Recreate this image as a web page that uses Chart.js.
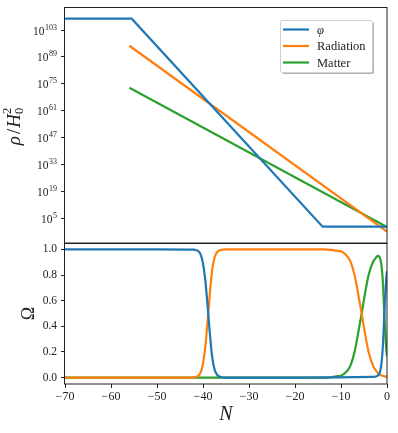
<!DOCTYPE html>
<html>
<head>
<meta charset="utf-8">
<script src="https://cdn.jsdelivr.net/npm/chart.js@4.4.1/dist/chart.umd.min.js"></script>
<style>
    html, body { margin: 0; padding: 0; background: #fff; }
    #wrap { position: relative; width: 398px; height: 433px; }
    #omega-chart { position: absolute; left: 0; top: 236px; }
    #rho-chart { position: absolute; left: 0; top: 0; }
</style>
</head>
<body>
<div id="wrap">
    <canvas id="omega-chart" width="398" height="197"></canvas>
    <canvas id="rho-chart" width="398" height="250"></canvas>
</div>
<script>
/* ----- data ----- */

// top panel: log10(rho / H0^2) at the corners of each line
const phiN = [-70, -55.5, -14, 0];
const phiLogRho = [108.9, 108.9, 0.5, 0.5];
const radN = [-56, 0];
const radLogRho = [94.8, -2.1];
const matN = [-56, 0];
const matLogRho = [72.9, 0.3];

// bottom panel: density parameters
const phiOmegaN = [-70, -50, -42, -41.5, -41, -40.5, -40, -39.5, -39, -38.5, -38, -37.5, -37, -36.5, -36, -35, -20, -3, -2, -1.5, -1.2, -1, -0.8, -0.6, -0.4, -0.2, 0];
const phiOmega = [1, 1, 0.998, 0.994, 0.985, 0.96, 0.89, 0.76, 0.56, 0.34, 0.16, 0.065, 0.025, 0.009, 0.003, 0, 0, 0.005, 0.015, 0.048, 0.11, 0.19, 0.31, 0.48, 0.63, 0.75, 0.83];

const radOmegaN = [-70, -43, -42, -41.5, -41, -40.5, -40, -39.5, -39, -38.5, -38, -37.5, -37, -36.5, -36, -35, -14, -12, -11, -10, -9, -8, -7, -6, -5.5, -5, -4, -3, -2.5, -2, -1.5, -1, -0.5, 0];
const radOmega = [0, 0, 0.002, 0.006, 0.015, 0.04, 0.11, 0.24, 0.44, 0.66, 0.84, 0.935, 0.975, 0.991, 0.997, 1, 1, 0.996, 0.99, 0.985, 0.96, 0.91, 0.79, 0.6, 0.5, 0.39, 0.2, 0.09, 0.06, 0.035, 0.022, 0.014, 0.009, 0.006];

const matOmegaN = [-70, -14, -12, -11, -10, -9, -8, -7, -6, -5.5, -5, -4, -3, -2.5, -2, -1.5, -1.2, -1, -0.8, -0.6, -0.4, -0.2, 0];
const matOmega = [0, 0, 0.004, 0.01, 0.015, 0.04, 0.09, 0.21, 0.4, 0.5, 0.61, 0.8, 0.905, 0.93, 0.95, 0.93, 0.875, 0.8, 0.68, 0.51, 0.36, 0.245, 0.165];

const seriesLabels = ["φ", "Radiation", "Matter"];
const seriesColors = ["#1f77b4", "#ff7f0e", "#2ca02c"];

const rhoTickExp = [5, 19, 33, 47, 61, 75, 89, 103];
const nTicks = [-70, -60, -50, -40, -30, -20, -10, 0];
const omegaTicks = [0, 0.2, 0.4, 0.6, 0.8, 1.0];

/* ----- helpers ----- */

const SERIF = "'Liberation Serif', 'DejaVu Serif', serif";
const INK = "#222";

function points(xs, ys, map) {
    return xs.map((x, i) => ({ x: x, y: map ? map(ys[i]) : ys[i] }));
}

function tickSet(values) {
    return scale => {
        scale.ticks = values.map(v => ({ value: v }));
    };
}

// pin the plot box: no extra room for half tick labels
function fixWidth(w) {
    return scale => {
        scale.width = w;
        scale.paddingTop = 0;
        scale.paddingBottom = 0;
    };
}

const frame = {
    id: "frame",
    afterDraw(chart) {
        const { ctx, chartArea: a } = chart;
        ctx.save();
        ctx.strokeStyle = INK;
        ctx.lineWidth = 1;
        ctx.strokeRect(Math.round(a.left) - 0.5, Math.round(a.top) + 0.5,
            Math.round(a.right - a.left) + 0.5, Math.round(a.bottom - a.top) - 0.5);
        ctx.restore();
    }
};

// "10" with a raised exponent, for the log axis
const powerLabels = {
    id: "powerLabels",
    afterDraw(chart) {
        const { ctx } = chart;
        const scale = chart.scales.y;
        ctx.save();
        ctx.fillStyle = INK;
        ctx.textBaseline = "alphabetic";
        scale.ticks.forEach(t => {
            const y = scale.getPixelForValue(t.value);
            const exp = String(Math.round(Math.log10(t.value)));
            const right = scale.right - 8;
            ctx.font = "8px " + SERIF;
            const ew = ctx.measureText(exp).width;
            ctx.fillText(exp, right - ew, y - 0.5);
            ctx.font = "11.5px " + SERIF;
            const bw = ctx.measureText("10").width;
            ctx.fillText("10", right - ew - bw - 0.5, y + 4.5);
        });
        ctx.restore();
    }
};

// rotated  rho / H_0^2  axis title
const rhoTitle = {
    id: "rhoTitle",
    afterDraw(chart) {
        const { ctx, chartArea: a } = chart;
        const big = "italic 19px " + SERIF;
        const up = "19px " + SERIF;
        const small = "12.5px " + SERIF;
        ctx.save();
        ctx.fillStyle = INK;
        ctx.textBaseline = "alphabetic";
        const parts = [
            { t: "ρ", f: big, gap: 2 },
            { t: "/", f: up, gap: 1 },
            { t: "H", f: big, gap: 1 }
        ];
        let w = 0;
        parts.forEach(p => { ctx.font = p.f; p.w = ctx.measureText(p.t).width; w += p.w + p.gap; });
        ctx.font = small;
        const sw = ctx.measureText("0").width;
        w += sw;
        ctx.translate(15, (a.top + a.bottom) / 2 + 1);
        ctx.rotate(-Math.PI / 2);
        let x = -w / 2;
        parts.forEach(p => {
            ctx.font = p.f;
            ctx.fillText(p.t, x, 5);
            x += p.w + p.gap;
        });
        ctx.font = small;
        ctx.fillText("2", x - 1, -4);
        ctx.fillText("0", x - 1, 8);
        ctx.restore();
    }
};

const legendBox = {
    id: "legendBox",
    afterDraw(chart) {
        const { ctx, chartArea: a } = chart;
        const x = a.right - 107, y = a.top + 13, w = 92, h = 52;
        ctx.save();
        ctx.fillStyle = "rgba(0,0,0,0.3)";
        ctx.beginPath();
        ctx.roundRect(x + 2, y + 2, w, h, 2);
        ctx.fill();
        ctx.fillStyle = "#fff";
        ctx.strokeStyle = "#d0d0d0";
        ctx.lineWidth = 1;
        ctx.beginPath();
        ctx.roundRect(x + 0.5, y + 0.5, w, h, 2);
        ctx.fill();
        ctx.stroke();

        ctx.textBaseline = "middle";
        chart.data.datasets.forEach((ds, i) => {
            const ry = y + 9.5 + i * 16.5;
            ctx.strokeStyle = ds.borderColor;
            ctx.lineWidth = 2.2;
            ctx.beginPath();
            ctx.moveTo(x + 3, ry);
            ctx.lineTo(x + 29, ry);
            ctx.stroke();
            ctx.fillStyle = INK;
            ctx.font = (i === 0 ? "italic " : "") + "12.5px " + SERIF;
            ctx.fillText(ds.label, x + 37, ry + 1);
        });
        ctx.restore();
    }
};

const tickGrid = {
    display: true,
    drawOnChartArea: false,
    drawTicks: true,
    tickLength: 4,
    color: INK
};

/* ----- top panel: rho / H0^2 ----- */

new Chart(document.getElementById("rho-chart"), {
    type: "line",
    data: {
        datasets: [
            { data: points(phiN, phiLogRho, v => Math.pow(10, v)) },
            { data: points(radN, radLogRho, v => Math.pow(10, v)) },
            { data: points(matN, matLogRho, v => Math.pow(10, v)) }
        ].map((ds, i) => Object.assign(ds, {
            label: seriesLabels[i],
            borderColor: seriesColors[i],
            borderWidth: 2.2,
            pointRadius: 0,
            tension: 0,
            fill: false
        }))
    },
    options: {
        responsive: false,
        animation: false,
        events: [],
        layout: { padding: { top: 7, right: 11, bottom: 7, left: 0 } },
        plugins: { legend: { display: false }, tooltip: { enabled: false } },
        scales: {
            x: { type: "linear", min: -70, max: 0, display: false },
            y: {
                type: "logarithmic",
                min: 1e-8,
                max: 1e115,
                afterBuildTicks: tickSet(rhoTickExp.map(e => Math.pow(10, e))),
                afterFit: fixWidth(65),
                grid: tickGrid,
                border: { display: false },
                ticks: {
                    autoSkip: false,
                    padding: 4,
                    color: "rgba(0,0,0,0)",
                    font: { family: SERIF, size: 11 },
                    callback: v => "10^" + Math.round(Math.log10(v))
                },
                title: { display: false }
            }
        }
    },
    plugins: [frame, powerLabels, rhoTitle, legendBox]
});

/* ----- bottom panel: Omega ----- */

new Chart(document.getElementById("omega-chart"), {
    type: "line",
    data: {
        datasets: [
            { data: points(phiOmegaN, phiOmega) },
            { data: points(radOmegaN, radOmega) },
            { data: points(matOmegaN, matOmega) }
        ].map((ds, i) => Object.assign(ds, {
            label: seriesLabels[i],
            borderColor: seriesColors[i],
            borderWidth: 2.2,
            pointRadius: 0,
            cubicInterpolationMode: "monotone",
            fill: false
        }))
    },
    options: {
        responsive: false,
        animation: false,
        events: [],
        layout: { padding: { top: 7, right: 11, bottom: 0, left: 0 } },
        plugins: { legend: { display: false }, tooltip: { enabled: false } },
        scales: {
            x: {
                type: "linear",
                min: -70,
                max: 0,
                afterBuildTicks: tickSet(nTicks),
                afterFit: scale => {
                    scale.height = 49;
                    scale.paddingLeft = 0;
                    scale.paddingRight = 0;
                },
                grid: tickGrid,
                border: { display: false },
                ticks: {
                    autoSkip: false,
                    maxRotation: 0,
                    padding: 2,
                    color: INK,
                    font: { family: SERIF, size: 12 },
                    callback: v => (v < 0 ? "−" + Math.abs(v) : String(v))
                },
                title: {
                    display: true,
                    text: "N",
                    color: INK,
                    padding: { top: 0, bottom: 6 },
                    font: { family: SERIF, size: 20, style: "italic" }
                }
            },
            y: {
                type: "linear",
                min: -0.05,
                max: 1.05,
                afterBuildTicks: tickSet(omegaTicks),
                afterFit: fixWidth(65),
                grid: tickGrid,
                border: { display: false },
                ticks: {
                    autoSkip: false,
                    padding: 4,
                    color: INK,
                    font: { family: SERIF, size: 11.5 },
                    callback: v => v.toFixed(1)
                },
                title: {
                    display: true,
                    text: "Ω",
                    color: INK,
                    padding: { top: 18, bottom: 0 },
                    font: { family: SERIF, size: 18 }
                }
            }
        }
    },
    plugins: [frame]
});
</script>
</body>
</html>
